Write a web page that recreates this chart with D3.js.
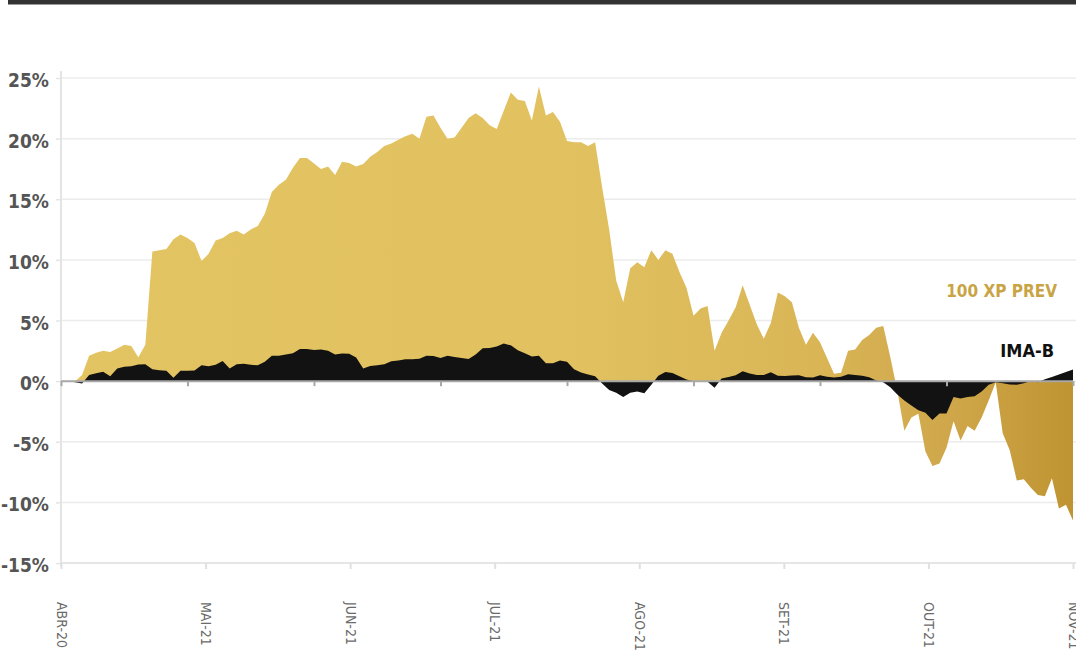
<!DOCTYPE html>
<html>
<head>
<meta charset="utf-8">
<script src="https://cdn.jsdelivr.net/npm/d3@7"></script>
<style>
  html, body { margin: 0; padding: 0; background: #fff; }
  svg { display: block; }
</style>
</head>
<body>
<svg id="chart" width="1076" height="651"></svg>
<script>
// ---- DATA ----
const monthLabels = ["ABR-20", "MAI-21", "JUN-21", "JUL-21", "AGO-21", "SET-21", "OUT-21", "NOV-21"];
const yTicks = [25, 20, 15, 10, 5, 0, -5, -10, -15];
const seriesNames = ["100 XP PREV", "IMA-B"];

// 100 XP PREV cumulative return (%)
const xpPrev = [
  0, 0, 0, 0.5, 2.1, 2.35, 2.5, 2.4, 2.7, 3.0,
  2.9, 1.97, 3.0, 10.7, 10.8, 10.9, 11.7, 12.1, 11.8, 11.4,
  9.9, 10.5, 11.6, 11.8, 12.2, 12.4, 12.1, 12.5, 12.8, 13.8,
  15.6, 16.2, 16.6, 17.6, 18.4, 18.4, 17.95, 17.5, 17.7, 17.0,
  18.1, 18.0, 17.7, 17.9, 18.5, 18.9, 19.4, 19.6, 19.9, 20.2,
  20.4, 20.0, 21.8, 21.9, 20.9, 20.0, 20.1, 20.9, 21.7, 22.1,
  21.7, 21.1, 20.8, 22.3, 23.8, 23.2, 23.1, 21.5, 24.3, 21.9,
  22.2, 21.4, 19.8, 19.7, 19.7, 19.4, 19.7, 16.0, 12.5, 8.3,
  6.5, 9.3, 9.8, 9.4, 10.8, 10.0, 10.8, 10.5, 9.0, 7.7,
  5.4, 6.0, 6.2, 2.5, 4.0, 5.0, 6.1, 7.9, 6.3, 4.7,
  3.5, 4.8, 7.3, 7.0, 6.5, 4.4, 3.0, 4.0, 3.2, 1.9,
  0.6, 0.7, 2.5, 2.6, 3.4, 3.8, 4.4, 4.55, 2.0, -0.8,
  -4.1, -3.0, -2.7, -5.8, -7.0, -6.8, -5.5, -3.3, -4.9, -3.7,
  -4.1, -3.0, -1.6, -0.1, -4.3, -5.7, -8.2, -8.1, -8.8, -9.4,
  -9.5, -8.0, -10.5, -10.2, -11.5
];

// IMA-B cumulative return (%)
const imaB = [
  0, 0, -0.1, -0.2, 0.5, 0.65, 0.77, 0.4, 1.05, 1.18,
  1.22, 1.37, 1.4, 0.97, 0.9, 0.85, 0.28, 0.85, 0.86, 0.87,
  1.3, 1.22, 1.36, 1.65, 1.05, 1.4, 1.43, 1.36, 1.3, 1.6,
  2.1, 2.1, 2.2, 2.3, 2.65, 2.65, 2.56, 2.6, 2.5, 2.2,
  2.27, 2.25, 1.95, 1.05, 1.25, 1.3, 1.4, 1.63, 1.7, 1.8,
  1.8, 1.85, 2.1, 2.08, 1.9, 2.1, 2.0, 1.9, 1.82, 2.2,
  2.71, 2.74, 2.85, 3.1, 2.95, 2.55, 2.3, 2.03, 2.1, 1.47,
  1.47, 1.7, 1.6, 0.98, 0.72, 0.55, 0.4, -0.2, -0.73, -0.95,
  -1.3, -0.95, -0.85, -1.0, -0.3, 0.44, 0.75, 0.68, 0.4, 0.14,
  0, 0, -0.05, -0.55, 0.22, 0.35, 0.48, 0.82, 0.62, 0.5,
  0.5, 0.74, 0.45, 0.43, 0.47, 0.49, 0.32, 0.3, 0.48, 0.36,
  0.3, 0.36, 0.56, 0.5, 0.45, 0.32, 0.05, -0.1, -0.5, -1.1,
  -1.6, -2.0, -2.4, -2.6, -3.2, -2.68, -2.68, -1.3, -1.44, -1.3,
  -1.25, -0.85, -0.3, -0.1, -0.18, -0.28, -0.3, -0.18, 0.02, -0.1,
  0.15, 0.35, 0.55, 0.75, 0.95
];

(function () {
// ---- LAYOUT ----
const svg = d3.select("#chart");
const W = 1076;
const plotL = 61, plotR = 1073, plotT = 78, plotB = 563;
const font = "'Liberation Sans Narrow', 'DejaVu Sans Condensed', 'Roboto', sans-serif";

const N = xpPrev.length;
const x = d3.scaleLinear().domain([0, N - 1]).range([plotL, plotR]);
const y = d3.scaleLinear().domain([-15, 25]).range([plotB, plotT]);

// top dark bar
svg.append("rect").attr("x", 8).attr("y", 0).attr("width", W - 8).attr("height", 4).attr("fill", "#333");
svg.append("rect").attr("x", 8).attr("y", 4).attr("width", W - 8).attr("height", 1).attr("fill", "#999");

// gradient for gold area
const defs = svg.append("defs");
const grad = defs.append("linearGradient").attr("id", "gold")
  .attr("gradientUnits", "userSpaceOnUse")
  .attr("x1", plotL).attr("x2", plotR).attr("y1", 0).attr("y2", 0);
[[0, "#e3c463"], [0.5, "#e1c160"], [0.75, "#d9b556"], [0.88, "#cfa74a"], [1, "#bf9331"]]
  .forEach(([o, c]) => grad.append("stop").attr("offset", o).attr("stop-color", c));

// gridlines
svg.append("g").selectAll("line").data(yTicks).join("line")
  .attr("x1", plotL).attr("x2", W)
  .attr("y1", d => y(d)).attr("y2", d => y(d))
  .attr("stroke", "#ececec").attr("stroke-width", 1.5);

// y axis
const yAxis = d3.axisLeft(y).tickValues(yTicks).tickSize(5).tickPadding(7).tickFormat(d => d + "%");
const gy = svg.append("g").attr("transform", `translate(${plotL},0)`).call(yAxis);
gy.select(".domain").remove();
gy.append("line").attr("x1", 0).attr("x2", 0).attr("y1", 71).attr("y2", 567)
  .attr("stroke", "#e4e4e4").attr("stroke-width", 2);
gy.selectAll(".tick line").attr("stroke", "#e4e4e4").attr("stroke-width", 1.5);
gy.selectAll(".tick text").attr("fill", "#555").attr("font-family", font)
  .attr("font-size", 19).attr("font-weight", "bold").attr("dy", "0.45em");

// x axis (months) at bottom
const monthTicks = monthLabels.map((m, i) => i * (N - 1) / (monthLabels.length - 1));
const xAxis = d3.axisBottom(x).tickValues(monthTicks).tickSize(6)
  .tickFormat((d, i) => monthLabels[i]);
const gx = svg.append("g").attr("transform", `translate(0,${plotB})`).call(xAxis);
gx.select(".domain").attr("stroke", "#e6e6e6").attr("stroke-width", 2)
  .attr("d", `M${plotL},0H${W}`);
gx.selectAll(".tick line").attr("stroke", "#e0e0e0").attr("stroke-width", 2);
gx.selectAll(".tick text")
  .attr("font-family", font).attr("font-size", 14).attr("fill", "#6a6a6a")
  .attr("text-anchor", "start")
  .attr("transform", "rotate(90)")
  .attr("x", 39).attr("y", 0).attr("dy", "0.35em");

// areas
const area = d3.area().x((d, i) => x(i)).y0(y(0)).y1(d => y(d)).curve(d3.curveLinear);
svg.append("path").datum(xpPrev).attr("d", area).attr("fill", "url(#gold)");
svg.append("path").datum(imaB).attr("d", area).attr("fill", "#121212");

// zero line with ticks
const zeroAxis = d3.axisBottom(x).tickValues(d3.range(9).map(i => i * (N - 1) / 8)).tickSize(5).tickFormat("");
const gz = svg.append("g").attr("transform", `translate(0,${y(0)})`).call(zeroAxis);
gz.select(".domain").attr("stroke", "#a8a8a8").attr("stroke-width", 2).attr("d", `M${plotL},0H${plotR}`);
gz.selectAll(".tick line").attr("stroke", "#a8a8a8").attr("stroke-width", 2);

// series labels
svg.append("text").text(seriesNames[0])
  .attr("x", 1057).attr("y", 297).attr("text-anchor", "end")
  .attr("font-family", font).attr("font-size", 17).attr("font-weight", "bold")
  .attr("fill", "#c9a444");
svg.append("text").text(seriesNames[1])
  .attr("x", 1054).attr("y", 357).attr("text-anchor", "end")
  .attr("font-family", font).attr("font-size", 18).attr("font-weight", "bold")
  .attr("fill", "#111");
})();
</script>
</body>
</html>
